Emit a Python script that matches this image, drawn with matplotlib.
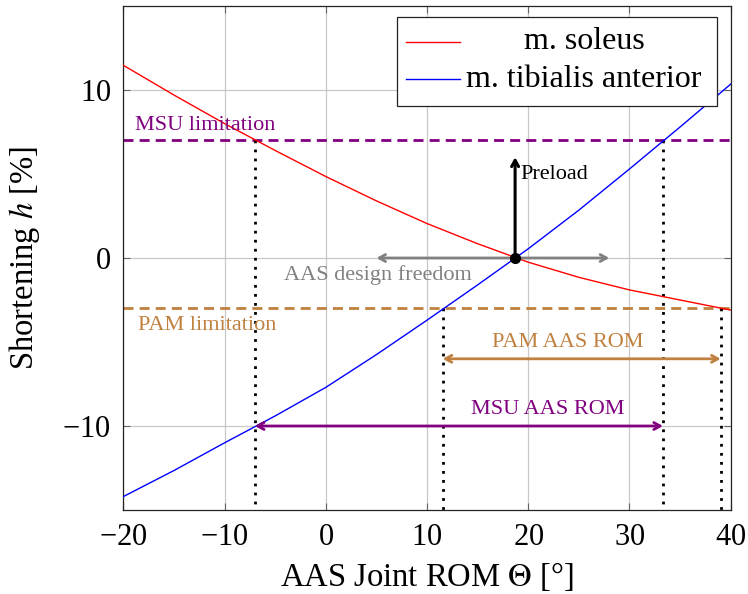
import matplotlib
matplotlib.use("Agg")
import matplotlib.pyplot as plt
from matplotlib.patches import Rectangle
from matplotlib.lines import Line2D

plt.rcParams['font.family'] = 'serif'
plt.rcParams['font.serif'] = ['Liberation Serif', 'DejaVu Serif']
plt.rcParams['mathtext.fontset'] = 'stix'
plt.rcParams['axes.formatter.use_mathtext'] = True

# joint angle samples (deg) and shortening h (%)
theta = [-20, -15, -10, -5, 0, 5, 10, 15, 20, 25, 30, 35, 40]
soleus = [11.47, 9.7, 8.0, 6.4, 4.85, 3.4, 2.05, 0.85, -0.25, -1.15, -1.9, -2.5, -3.1]
tibialis = [-14.2, -12.65, -11.0, -9.4, -7.7, -5.75, -3.7, -1.6, 0.55, 2.85, 5.3, 7.8, 10.35]

msu_limit = 7.0
pam_limit = -3.0
preload_pt = (18.7, 0.0)
preload_top = 6.0
freedom_span = (5.0, 28.0)
msu_rom = (-7.0, 33.3)
pam_rom = (11.55, 39.0)
msu_rom_y = -10.0
pam_rom_y = -6.0

violet = '#800080'
brown = '#c0803f'
gray = '#808080'

fig = plt.figure(figsize=(7.48, 5.94), dpi=100)
ax = fig.add_axes([0.1649, 0.1414, 0.8120, 0.8485])

ax.set_xlim(-20, 40)
ax.set_ylim(-15, 15)
ax.set_xticks([-20, -10, 0, 10, 20, 30, 40])
ax.set_yticks([-10, 0, 10])
ax.grid(True, color='#c8c8c8', lw=0.9)
ax.set_axisbelow(True)
ax.tick_params(direction='in', top=True, right=True, length=5, width=0.8,
               color='#666666', labelsize=22, pad=9)
for s in ax.spines.values():
    s.set_linewidth(0.9)
    s.set_color('#222222')

ax.plot(theta, soleus, color='red', lw=1.0, zorder=3)
ax.plot(theta, tibialis, color='blue', lw=1.0, zorder=3)

# limitation lines
ax.axhline(msu_limit, color=violet, lw=2.0, ls=(0, (3.6, 2.2)), zorder=2)
ax.axhline(pam_limit, color=brown, lw=2.0, ls=(0, (3.6, 2.2)), zorder=2)
ax.text(-18.8, msu_limit + 0.3, 'MSU limitation', color=violet, fontsize=16, va='bottom')
ax.text(-18.6, pam_limit - 0.45, 'PAM limitation', color=brown, fontsize=16, va='top')

# dotted verticals down from the intersections
dot = dict(color='black', lw=2.0, ls=(0, (1.0, 2.25)), zorder=2)
ax.plot([msu_rom[0], msu_rom[0]], [msu_limit, -15], **dot)
ax.plot([msu_rom[1], msu_rom[1]], [msu_limit, -15], **dot)
ax.plot([pam_rom[0], pam_rom[0]], [pam_limit, -15], **dot)
ax.plot([pam_rom[1], pam_rom[1]], [pam_limit, -15], **dot)

# range arrows
def darrow(x0, x1, y, col, style='<->'):
    ax.annotate('', xy=(x1, y), xytext=(x0, y),
                arrowprops=dict(arrowstyle=style + ',head_length=0.45,head_width=0.25',
                                color=col, lw=2.0, shrinkA=0, shrinkB=0), zorder=4)

darrow(msu_rom[0], msu_rom[1], msu_rom_y, violet)
darrow(pam_rom[0], pam_rom[1], pam_rom_y, brown)
darrow(freedom_span[0], freedom_span[1], 0.0, gray)
ax.annotate('', xy=(preload_pt[0], preload_top), xytext=preload_pt,
            arrowprops=dict(arrowstyle='->,head_length=0.45,head_width=0.25',
                            color='black', lw=2.2, shrinkA=0, shrinkB=0), zorder=5)
ax.plot([preload_pt[0]], [preload_pt[1]], 'o', color='black', ms=7, zorder=6)

ax.text(23.9, -5.0, 'PAM AAS ROM', color=brown, fontsize=16, ha='center', va='center')
ax.text(21.9, -9.0, 'MSU AAS ROM', color=violet, fontsize=16, ha='center', va='center')
ax.text(5.1, -1.0, 'AAS design freedom', color=gray, fontsize=16, ha='center', va='center')
ax.text(19.2, 5.0, 'Preload', color='black', fontsize=16, ha='left', va='center')

ax.set_xlabel(r'AAS Joint ROM $\Theta$ [°]', fontsize=23.5, labelpad=6)
ax.set_ylabel(r'Shortening $h$ [%]', fontsize=23.5, labelpad=15)

# legend box drawn by hand so the labels sit centred like the original
ax.add_patch(Rectangle((0.450, 0.8016), 0.528, 0.1772, transform=ax.transAxes,
                       facecolor='white', edgecolor='#222222', lw=0.9, zorder=7))
ax.add_line(Line2D([0.4654, 0.5543], [0.929, 0.929], transform=ax.transAxes,
                   color='red', lw=1.0, zorder=8))
ax.add_line(Line2D([0.4654, 0.5543], [0.8546, 0.8546], transform=ax.transAxes,
                   color='blue', lw=1.0, zorder=8))
ax.text(0.7585, 0.929, 'm. soleus', transform=ax.transAxes, fontsize=23,
        ha='center', va='center', zorder=8)
ax.text(0.7585, 0.8546, 'm. tibialis anterior', transform=ax.transAxes, fontsize=23,
        ha='center', va='center', zorder=8)

fig.savefig('out.png', dpi=100)
